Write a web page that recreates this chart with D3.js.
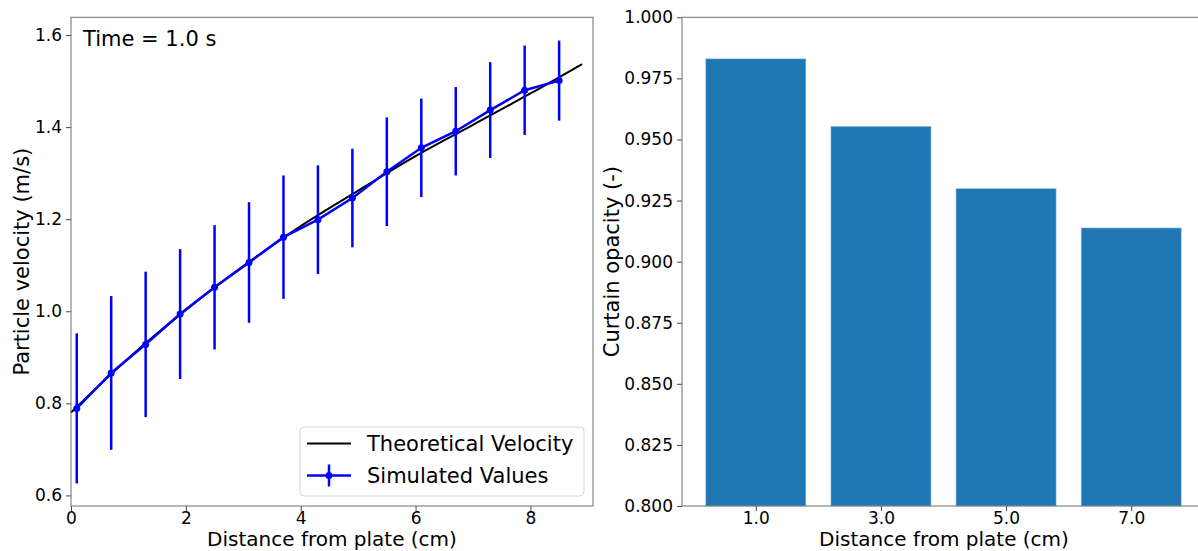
<!DOCTYPE html>
<html>
<head>
<meta charset="utf-8">
<script src="https://cdn.jsdelivr.net/npm/d3@7"></script>
<style>
  body { margin: 0; background: #fff; }
  svg text { font-family: "DejaVu Sans", sans-serif; fill: #000; }
  .tick line { stroke: #444; }
</style>
</head>
<body>
<div id="chart"></div>
<script>
(function () {

    // Left panel: simulated points with error bars
    var simX = [0.1, 0.7, 1.3, 1.9, 2.5, 3.1, 3.7, 4.3, 4.9, 5.5, 6.1, 6.7, 7.3, 7.9, 8.5];
    var simY = [0.789, 0.866, 0.928, 0.994, 1.052, 1.106, 1.161, 1.199, 1.246, 1.303, 1.355, 1.391, 1.437, 1.480, 1.501];
    var simErr = [0.163, 0.167, 0.158, 0.141, 0.135, 0.131, 0.134, 0.118, 0.107, 0.118, 0.107, 0.096, 0.104, 0.097, 0.087];

    // Left panel: theoretical curve
    var theoX = [0, 1, 2, 3, 4, 5, 6, 7, 8, 8.9];
    var theoY = [0.780, 0.898, 1.003, 1.098, 1.185, 1.262, 1.337, 1.405, 1.473, 1.537];

    var leftXTicks = [0, 2, 4, 6, 8];
    var leftYTicks = [0.6, 0.8, 1.0, 1.2, 1.4, 1.6];

    // Right panel: bars
    var barCats = [1.0, 3.0, 5.0, 7.0];
    var barVals = [0.983, 0.9554, 0.9299, 0.9138];
    var rightYTicks = [0.800, 0.825, 0.850, 0.875, 0.900, 0.925, 0.950, 0.975, 1.000];

    var blue = "#0000ff";
    var barColor = "#1f77b4";
    var spineColor = "#6e6e6e";

    var svg = d3.select("#chart")
        .append("svg")
        .attr("width", 1198)
        .attr("height", 551);

    // ---------- left panel ----------
    var L = {left: 71, right: 593, top: 17.3, bottom: 506};

    var x0 = d3.scaleLinear().domain([0, 9.09]).range([L.left, L.right]);
    var y0 = d3.scaleLinear().domain([0.577, 1.6385]).range([L.bottom, L.top]);

    var gL = svg.append("g");

    gL.append("g")
        .attr("transform", "translate(0," + L.bottom + ")")
        .call(d3.axisBottom(x0).tickValues(leftXTicks).tickFormat(d3.format("d")).tickSize(5).tickPadding(0.5))
        .call(function (g) { g.select(".domain").remove(); })
        .selectAll("text").style("font-size", "17px");

    gL.append("g")
        .attr("transform", "translate(" + L.left + ",0)")
        .call(d3.axisLeft(y0).tickValues(leftYTicks).tickFormat(d3.format(".1f")).tickSize(5).tickPadding(4))
        .call(function (g) { g.select(".domain").remove(); })
        .selectAll("text").style("font-size", "17px");

    // Theoretical line
    var theo = theoX.map(function (d, i) { return {x: d, y: theoY[i]}; });
    gL.append("path")
        .datum(theo)
        .attr("fill", "none")
        .attr("stroke", "#000")
        .attr("stroke-width", 2)
        .attr("d", d3.line()
            .x(function (d) { return x0(d.x); })
            .y(function (d) { return y0(d.y); })
            .curve(d3.curveMonotoneX));

    // Simulated values
    var sim = simX.map(function (d, i) { return {x: d, y: simY[i], e: simErr[i]}; });

    gL.selectAll(".err")
        .data(sim)
        .enter().append("line")
        .attr("class", "err")
        .attr("x1", function (d) { return x0(d.x); })
        .attr("x2", function (d) { return x0(d.x); })
        .attr("y1", function (d) { return y0(d.y - d.e); })
        .attr("y2", function (d) { return y0(d.y + d.e); })
        .attr("stroke", blue)
        .attr("stroke-width", 2.5);

    gL.append("path")
        .datum(sim)
        .attr("fill", "none")
        .attr("stroke", blue)
        .attr("stroke-width", 2.5)
        .attr("d", d3.line()
            .x(function (d) { return x0(d.x); })
            .y(function (d) { return y0(d.y); }));

    gL.selectAll(".dot")
        .data(sim)
        .enter().append("circle")
        .attr("class", "dot")
        .attr("cx", function (d) { return x0(d.x); })
        .attr("cy", function (d) { return y0(d.y); })
        .attr("r", 3.5)
        .attr("fill", blue);

    // Frame
    gL.append("rect")
        .attr("x", L.left)
        .attr("y", L.top)
        .attr("width", L.right - L.left)
        .attr("height", L.bottom - L.top)
        .attr("fill", "none")
        .attr("stroke", spineColor)
        .attr("stroke-width", 1);

    // Annotation
    gL.append("text")
        .attr("x", 83)
        .attr("y", 46)
        .style("font-size", "21px")
        .text("Time = 1.0 s");

    // Legend
    var leg = gL.append("g").attr("transform", "translate(300,427)");
    leg.append("rect")
        .attr("width", 284)
        .attr("height", 69)
        .attr("rx", 4)
        .attr("fill", "#fff")
        .attr("fill-opacity", 0.8)
        .attr("stroke", "#d6d6d6");
    leg.append("line")
        .attr("x1", 7).attr("x2", 51).attr("y1", 16.5).attr("y2", 16.5)
        .attr("stroke", "#000").attr("stroke-width", 2);
    leg.append("text")
        .attr("x", 67).attr("y", 24)
        .style("font-size", "21px")
        .text("Theoretical Velocity");
    leg.append("line")
        .attr("x1", 7).attr("x2", 51).attr("y1", 48.5).attr("y2", 48.5)
        .attr("stroke", blue).attr("stroke-width", 2.5);
    leg.append("line")
        .attr("x1", 29).attr("x2", 29).attr("y1", 37.5).attr("y2", 59.5)
        .attr("stroke", blue).attr("stroke-width", 2.5);
    leg.append("circle")
        .attr("cx", 29).attr("cy", 48.5).attr("r", 3.5).attr("fill", blue);
    leg.append("text")
        .attr("x", 67).attr("y", 56)
        .style("font-size", "21px")
        .text("Simulated Values");

    // Axis labels
    gL.append("text")
        .attr("transform", "translate(29," + ((L.top + L.bottom) / 2) + ") rotate(-90)")
        .attr("text-anchor", "middle")
        .style("font-size", "21px")
        .text("Particle velocity (m/s)");

    gL.append("text")
        .attr("x", (L.left + L.right) / 2)
        .attr("y", 546)
        .attr("text-anchor", "middle")
        .style("font-size", "20px")
        .text("Distance from plate (cm)");

    // ---------- right panel ----------
    var R = {left: 682, right: 1205, top: 17.3, bottom: 506};

    var x1 = d3.scaleLinear().domain([-0.18, 8.18]).range([R.left, R.right]);
    var y1 = d3.scaleLinear().domain([0.8, 1.0]).range([R.bottom, R.top]);
    var barW = 1.6;

    var gR = svg.append("g");

    gR.selectAll(".bar")
        .data(barCats)
        .enter().append("rect")
        .attr("class", "bar")
        .attr("x", function (d) { return x1(d - barW / 2); })
        .attr("width", function (d) { return x1(d + barW / 2) - x1(d - barW / 2); })
        .attr("y", function (d, i) { return y1(barVals[i]); })
        .attr("height", function (d, i) { return R.bottom - y1(barVals[i]); })
        .attr("fill", barColor)
        .attr("stroke", "#a9c8e0")
        .attr("stroke-width", 0.6);

    gR.append("g")
        .attr("transform", "translate(0," + R.bottom + ")")
        .call(d3.axisBottom(x1).tickValues(barCats).tickFormat(d3.format(".1f")).tickSize(5).tickPadding(0.5))
        .call(function (g) { g.select(".domain").remove(); })
        .selectAll("text").style("font-size", "17px");

    gR.append("g")
        .attr("transform", "translate(" + R.left + ",0)")
        .call(d3.axisLeft(y1).tickValues(rightYTicks).tickFormat(d3.format(".3f")).tickSize(5).tickPadding(4))
        .call(function (g) { g.select(".domain").remove(); })
        .selectAll("text").style("font-size", "17px");

    gR.append("rect")
        .attr("x", R.left)
        .attr("y", R.top)
        .attr("width", R.right - R.left)
        .attr("height", R.bottom - R.top)
        .attr("fill", "none")
        .attr("stroke", spineColor)
        .attr("stroke-width", 1);

    gR.append("text")
        .attr("transform", "translate(619," + ((R.top + R.bottom) / 2) + ") rotate(-90)")
        .attr("text-anchor", "middle")
        .style("font-size", "21px")
        .text("Curtain opacity (-)");

    gR.append("text")
        .attr("x", 944)
        .attr("y", 546)
        .attr("text-anchor", "middle")
        .style("font-size", "20px")
        .text("Distance from plate (cm)");

})();
</script>
</body>
</html>
